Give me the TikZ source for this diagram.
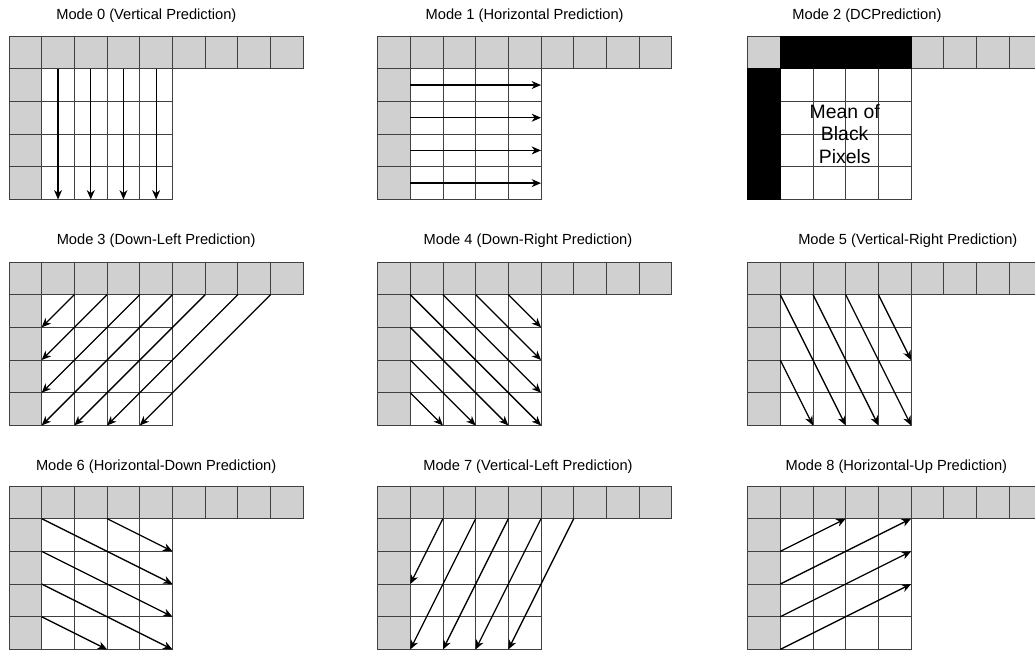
\documentclass[tikz,border=0pt]{standalone}
\usepackage{fontspec}
\setmainfont{Liberation Sans}
\usetikzlibrary{arrows.meta}
\definecolor{refgray}{RGB}{208,208,208}
\newcommand{\modefont}{\fontsize{10.2}{12}\selectfont}
\newcommand{\meanfont}{\fontsize{13.5}{15.4}\selectfont}

\begin{document}
\begin{tikzpicture}[x=0.8cm, y=-0.8cm]
  \tikzset{
    ref/.style={draw=black!75, fill=refgray, line width=0.6pt},
    cell/.style={draw=black!75, fill=white, line width=0.6pt},
    dc/.style={fill=black, draw=black, line width=0.6pt},
    pred/.style={line width=0.9pt, -{Stealth[length=6.5pt, width=5.5pt, inset=2pt]}},
    mtitle/.style={font=\modefont},
  }
  % 9 reference pixels on top, 4 on the left, 4x4 block
  \def\Grid{%
    \foreach \i in {0,...,8} \draw[ref] (\i,0) rectangle ++(1,1);
    \foreach \j in {1,...,4} \draw[ref] (0,\j) rectangle ++(1,1);
    \foreach \i in {1,...,4} \foreach \j in {1,...,4} \draw[cell] (\i,\j) rectangle ++(1,1);
  }
  \useasboundingbox (0,0) rectangle (31.65,19.85);
  \clip (0,0) rectangle (31.65,19.85);
  %% Mode 0: vertical
  \begin{scope}[shift={(0.275,1.10)}]
    \Grid
    \foreach \i in {1,...,4} \draw[pred] (\i+0.5,1) -- (\i+0.5,5);
    \node[mtitle] (t0) at (4.2,-0.62) {Mode 0 (Vertical Prediction)};
  \end{scope}
  %% Mode 1: horizontal
  \begin{scope}[shift={(11.545,1.10)}]
    \Grid
    \foreach \j in {1,...,4} \draw[pred] (1,\j+0.5) -- (5,\j+0.5);
    \node[mtitle] (t1) at (4.5,-0.62) {Mode 1 (Horizontal Prediction)};
  \end{scope}
  %% Mode 2: DC (mean of the black pixels)
  \begin{scope}[shift={(22.86,1.10)}]
    \Grid
    \draw[dc] (1,0) rectangle (5,1);
    \draw[dc] (0,1) rectangle (1,5);
    \node[font=\meanfont, align=center] (mean) at (2.97,3) {Mean of\\Black\\Pixels};
    \node[mtitle] (t2) at (3.65,-0.62) {Mode 2 (DCPrediction)};
  \end{scope}
  %% Mode 3: down-left
  \begin{scope}[shift={(0.275,8.01)}]
    \Grid
    \foreach \a/\b/\c/\d in {2/1/1/2, 3/1/1/3, 4/1/1/4, 5/1/1/5, 6/1/2/5, 7/1/3/5, 8/1/4/5}
      \draw[pred] (\a,\b) -- (\c,\d);
    \node[mtitle] (t3) at (4.5,-0.65) {Mode 3 (Down-Left Prediction)};
  \end{scope}
  %% Mode 4: down-right
  \begin{scope}[shift={(11.545,8.01)}]
    \Grid
    \foreach \a/\b/\c/\d in {4/1/5/2, 3/1/5/3, 2/1/5/4, 1/1/5/5, 1/2/4/5, 1/3/3/5, 1/4/2/5}
      \draw[pred] (\a,\b) -- (\c,\d);
    \node[mtitle] (t4) at (4.6,-0.65) {Mode 4 (Down-Right Prediction)};
  \end{scope}
  %% Mode 5: vertical-right
  \begin{scope}[shift={(22.86,8.01)}]
    \Grid
    \foreach \a/\b/\c/\d in {1/1/3/5, 2/1/4/5, 3/1/5/5, 4/1/5/3, 1/3/2/5}
      \draw[pred] (\a,\b) -- (\c,\d);
    \node[mtitle] (t5) at (4.9,-0.65) {Mode 5 (Vertical-Right Prediction)};
  \end{scope}
  %% Mode 6: horizontal-down
  \begin{scope}[shift={(0.275,14.86)}]
    \Grid
    \foreach \a/\b/\c/\d in {3/1/5/2, 1/1/5/3, 1/2/5/4, 1/3/5/5, 1/4/3/5}
      \draw[pred] (\a,\b) -- (\c,\d);
    \node[mtitle] (t6) at (4.5,-0.6) {Mode 6 (Horizontal-Down Prediction)};
  \end{scope}
  %% Mode 7: vertical-left
  \begin{scope}[shift={(11.545,14.86)}]
    \Grid
    \foreach \a/\b/\c/\d in {2/1/1/3, 3/1/1/5, 4/1/2/5, 5/1/3/5, 6/1/4/5}
      \draw[pred] (\a,\b) -- (\c,\d);
    \node[mtitle] (t7) at (4.6,-0.6) {Mode 7 (Vertical-Left Prediction)};
  \end{scope}
  %% Mode 8: horizontal-up
  \begin{scope}[shift={(22.86,14.86)}]
    \Grid
    \foreach \a/\b/\c/\d in {1/2/3/1, 1/3/5/1, 1/4/5/2, 1/5/5/3}
      \draw[pred] (\a,\b) -- (\c,\d);
    \node[mtitle] (t8) at (4.55,-0.6) {Mode 8 (Horizontal-Up Prediction)};
  \end{scope}
\end{tikzpicture}
\end{document}
